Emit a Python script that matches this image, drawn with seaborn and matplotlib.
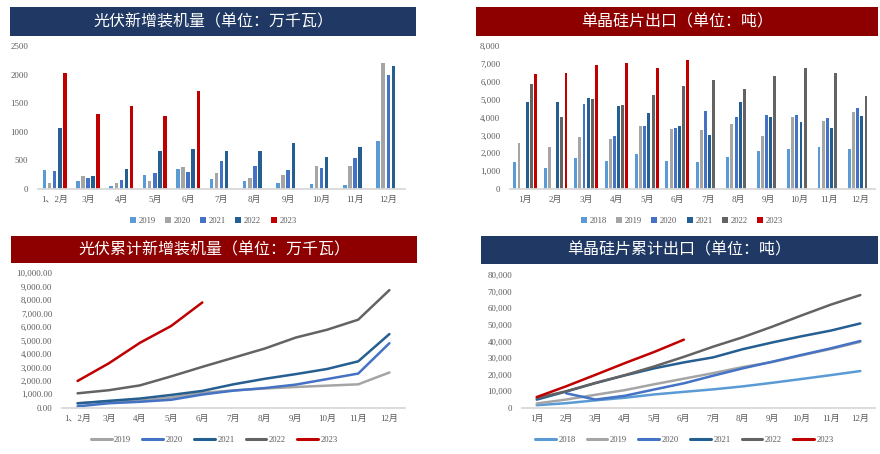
import pandas as pd
import matplotlib.pyplot as plt
import seaborn as sns
from matplotlib.patches import Rectangle
from matplotlib.ticker import StrMethodFormatter

sns.set_style('white')
plt.rcParams['font.family'] = ['Liberation Serif', 'Noto Sans CJK SC']

# === 数据：光伏新增装机量（万千瓦） ===
meses_pv = ['1、2月', '3月', '4月', '5月', '6月', '7月', '8月', '9月', '10月', '11月', '12月']
anios_pv = ['2019', '2020', '2021', '2022', '2023']
pv_2019 = [337, 134, 46, 244, 354, 174, 139, 110, 93, 76, 842]
pv_2020 = [99, 232, 110, 145, 389, 285, 198, 244, 407, 395, 2208]
pv_2021 = [314, 198, 163, 273, 296, 482, 401, 337, 366, 540, 1993]
pv_2022 = [1069, 232, 354, 668, 703, 668, 662, 802, 558, 738, 2150]
pv_2023 = [2022, 1313, 1447, 1278, 1708]

# === 数据：光伏累计新增装机量（万千瓦） ===
pv_acum_2019 = [340, 470, 520, 760, 1110, 1290, 1430, 1540, 1640, 1740, 2620]
pv_acum_2020 = [100, 330, 440, 590, 980, 1270, 1460, 1720, 2130, 2540, 4800]
pv_acum_2021 = [320, 510, 680, 950, 1250, 1740, 2150, 2500, 2880, 3450, 5480]
pv_acum_2022 = [1070, 1300, 1660, 2330, 3040, 3720, 4400, 5220, 5800, 6550, 8750]
pv_acum_2023 = [1990, 3300, 4830, 6080, 7830]

# === 数据：单晶硅片出口（吨） ===
meses_si = ['1月', '2月', '3月', '4月', '5月', '6月', '7月', '8月', '9月', '10月', '11月', '12月']
anios_si = ['2018', '2019', '2020', '2021', '2022', '2023']
si_2018 = [1510, 1174, 1734, 1566, 1976, 1566, 1491, 1789, 2144, 2255, 2330, 2237]
si_2019 = [2554, 2349, 2889, 2815, 3523, 3355, 3318, 3653, 2945, 4008, 3821, 4306]
si_2020 = [None, None, 4753, 2964, 3504, 3411, 4343, 4026, 4119, 4138, 3970, 4529]
si_2021 = [4865, 4865, 5089, 4660, 4250, 3542, 3020, 4884, 4008, 3728, 3411, 4082]
si_2022 = [5853, 4045, 5033, 4697, 5275, 5741, 6114, 5592, 6319, 6785, 6505, 5200]
si_2023 = [6412, 6468, 6934, 7027, 6766, 7214]

# === 数据：单晶硅片累计出口（吨） ===
si_acum_2018 = [1510, 2700, 4450, 6000, 8000, 9550, 11050, 12850, 15000, 17300, 19650, 22100]
si_acum_2019 = [2550, 4900, 7800, 10600, 14150, 17500, 20850, 24500, 27500, 31550, 35400, 39700]
si_acum_2020 = [None, 8680, 4900, 7200, 11000, 14700, 19300, 23700, 27700, 31800, 35800, 40200]
si_acum_2021 = [4870, 9750, 14850, 19500, 23750, 27300, 30350, 35250, 39300, 43050, 46500, 50800]
si_acum_2022 = [5850, 9900, 14950, 19650, 24900, 30650, 36800, 42450, 48800, 55600, 62150, 67900]
si_acum_2023 = [6410, 12900, 19850, 26900, 33650, 41000]

colores_pv_bar = {'2019': '#5B9BD5', '2020': '#A5A5A5', '2021': '#4472C4',
                  '2022': '#255E91', '2023': '#C00000'}
colores_pv_line = {'2019': '#A5A5A5', '2020': '#4472C4', '2021': '#255E91',
                   '2022': '#636363', '2023': '#C00000'}
colores_si = {'2018': '#5B9BD5', '2019': '#A5A5A5', '2020': '#4472C4',
              '2021': '#255E91', '2022': '#636363', '2023': '#C00000'}


def a_largo(meses, series):
    filas = []
    for anio, valores in series.items():
        for mes, v in zip(meses, valores):
            if v is not None:
                filas.append({'月份': mes, '年份': anio, '值': v})
    return pd.DataFrame(filas)


df_pv = a_largo(meses_pv, dict(zip(anios_pv, [pv_2019, pv_2020, pv_2021, pv_2022, pv_2023])))
df_pv_acum = a_largo(meses_pv, dict(zip(anios_pv, [pv_acum_2019, pv_acum_2020, pv_acum_2021,
                                                   pv_acum_2022, pv_acum_2023])))
df_si = a_largo(meses_si, dict(zip(anios_si, [si_2018, si_2019, si_2020, si_2021, si_2022, si_2023])))
df_si_acum = a_largo(meses_si, dict(zip(anios_si, [si_acum_2018, si_acum_2019, si_acum_2020,
                                                   si_acum_2021, si_acum_2022, si_acum_2023])))

W, H = 880, 454
fig = plt.figure(figsize=(W / 100, H / 100), dpi=100)


def ejes(x0, y_top, x1, y_bot):
    return fig.add_axes([x0 / W, (H - y_bot) / H, (x1 - x0) / W, (y_bot - y_top) / H])


def barra_titulo(x0, y_top, x1, y_bot, color, texto):
    fig.patches.append(Rectangle((x0 / W, (H - y_bot) / H), (x1 - x0) / W, (y_bot - y_top) / H,
                                 transform=fig.transFigure, facecolor=color, edgecolor='none'))
    fig.text((x0 + x1) / 2 / W, (H - (y_top + y_bot) / 2) / H, texto, color='white',
             fontsize=11.5, ha='center', va='center', family=['Noto Sans CJK SC'])


def estilo(ax, n, ymax, fmt):
    for s in ['left', 'top', 'right']:
        ax.spines[s].set_visible(False)
    ax.spines['bottom'].set_color('#D9D9D9')
    ax.spines['bottom'].set_linewidth(1.3)
    ax.set_xlim(-0.5, n - 0.5)
    ax.set_ylim(0, ymax)
    ax.yaxis.set_major_formatter(StrMethodFormatter(fmt))
    ax.tick_params(axis='both', length=0, colors='#595959')
    ax.tick_params(axis='x', labelsize=6.5, pad=5)
    ax.tick_params(axis='y', labelsize=6.3, pad=7)
    ax.set_xlabel('')
    ax.set_ylabel('')


def leyenda(ax, cx, cy, ncol, lineas=False):
    if lineas:
        sns.move_legend(ax, 'center', bbox_to_anchor=(cx, cy), ncol=ncol, frameon=False,
                        title=None, fontsize=6.2, handlelength=2.4, handletextpad=0.3,
                        columnspacing=1.3, labelcolor='#595959')
        for h in ax.get_legend().legend_handles:
            h.set_linewidth(2.2)
    else:
        sns.move_legend(ax, 'center', bbox_to_anchor=(cx, cy), ncol=ncol, frameon=False,
                        title=None, fontsize=6.2, handlelength=0.7, handleheight=0.7,
                        handletextpad=0.3, columnspacing=1.1, labelcolor='#595959')


# === Gráfico 1: 光伏新增装机量 ===
barra_titulo(10, 7, 416, 36, '#1F3864', '光伏新增装机量（单位：万千瓦）')
ax1 = ejes(38, 46, 405, 189)
sns.barplot(data=df_pv, x='月份', y='值', hue='年份', order=meses_pv, hue_order=anios_pv,
            palette=colores_pv_bar, saturation=1, linewidth=0, width=0.76, gap=0.3,
            errorbar=None, ax=ax1)
estilo(ax1, len(meses_pv), 2500, '{x:.0f}')
ax1.set_yticks(range(0, 2501, 500))
leyenda(ax1, 0.477, -0.224, 5)

# === Gráfico 2: 单晶硅片出口 ===
barra_titulo(476, 7, 878, 36, '#8E0000', '单晶硅片出口（单位：吨）')
ax2 = ejes(510, 46, 875, 189)
sns.barplot(data=df_si, x='月份', y='值', hue='年份', order=meses_si, hue_order=anios_si,
            palette=colores_si, saturation=1, linewidth=0, width=0.82, gap=0.3,
            errorbar=None, ax=ax2)
estilo(ax2, len(meses_si), 8000, '{x:,.0f}')
ax2.set_yticks(range(0, 8001, 1000))
leyenda(ax2, 0.471, -0.224, 6)

# === Gráfico 3: 光伏累计新增装机量 ===
barra_titulo(11, 236, 417, 263, '#8E0000', '光伏累计新增装机量（单位：万千瓦）')
ax3 = ejes(62, 273.3, 405, 407.7)
sns.lineplot(data=df_pv_acum, x='月份', y='值', hue='年份', hue_order=anios_pv,
             palette=colores_pv_line, linewidth=1.8, sort=False, ax=ax3)
estilo(ax3, len(meses_pv), 10000, '{x:,.2f}')
ax3.set_yticks(range(0, 10001, 1000))
leyenda(ax3, 0.444, -0.24, 5, lineas=True)

# === Gráfico 4: 单晶硅片累计出口 ===
barra_titulo(481, 236, 878, 264, '#1F3864', '单晶硅片累计出口（单位：吨）')
ax4 = ejes(522, 275, 875, 407.7)
sns.lineplot(data=df_si_acum, x='月份', y='值', hue='年份', hue_order=anios_si,
             palette=colores_si, linewidth=1.8, sort=False, ax=ax4)
estilo(ax4, len(meses_si), 80000, '{x:,.0f}')
ax4.set_yticks(range(0, 80001, 10000))
leyenda(ax4, 0.46, -0.24, 6, lineas=True)

fig.savefig('out.png', dpi=100, facecolor='white')
